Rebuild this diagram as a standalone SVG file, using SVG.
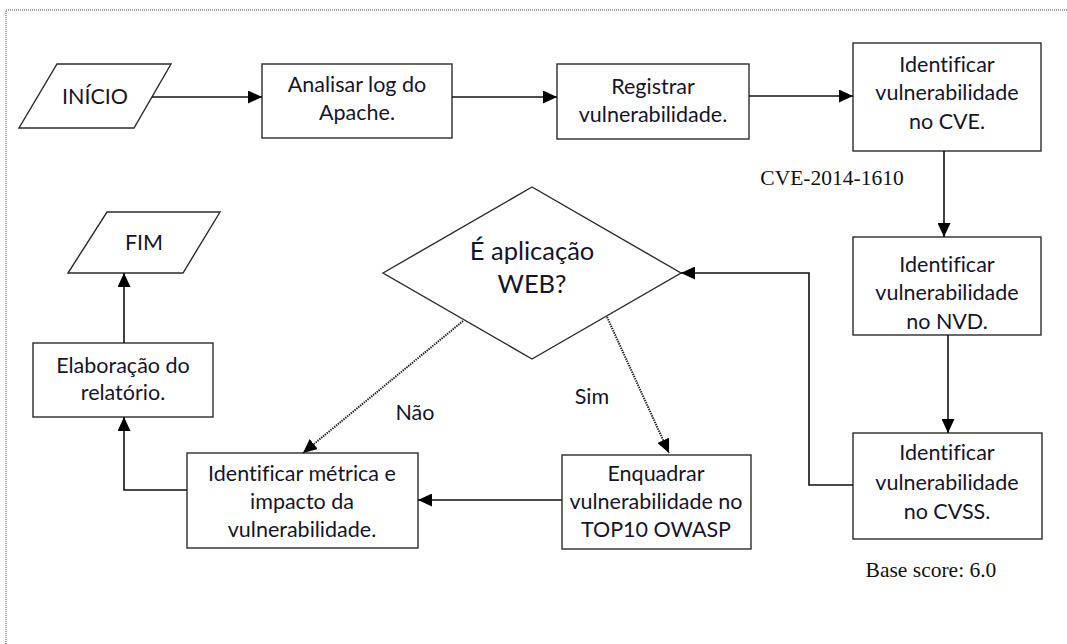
<svg xmlns="http://www.w3.org/2000/svg" width="1067" height="644" viewBox="0 0 1067 644">
<style>
.box{fill:#fff;stroke:#2b2b2b;stroke-width:1.4}
.t{font-family:Lato,"Open Sans",sans-serif;font-size:21.5px;fill:#15152a;text-anchor:middle;font-variant-ligatures:none}
.big{font-size:25.5px}
.serif{font-family:"Liberation Serif","Times New Roman",serif;font-size:21.5px;fill:#111;text-anchor:middle}
.ln{fill:none;stroke:#111;stroke-width:1.6}
.dot{fill:none;stroke:#222;stroke-width:2;stroke-dasharray:1.4 1}
.frame{fill:none;stroke:#555;stroke-width:1;stroke-dasharray:1 1}
</style>
<defs>
<marker id="ah" markerUnits="userSpaceOnUse" markerWidth="14" markerHeight="13" refX="14" refY="6.5" orient="auto">
<path d="M0,0 L14,6.5 L0,13 z" fill="#000"/>
</marker>
</defs>
<rect width="1067" height="644" fill="#fff"/>
<path class="frame" d="M6,644 L6,10 L1067,10"/>

<g id="inicio">
<polygon class="box" points="57,64 171,64 134,128 19,128"/>
<text class="t" x="95" y="104">INÍCIO</text>
</g>
<g id="analisar">
<rect class="box" x="262" y="64" width="190" height="74"/>
<text class="t" x="357" y="92">Analisar log do</text>
<text class="t" x="357" y="120">Apache.</text>
</g>
<g id="registrar">
<rect class="box" x="557" y="64" width="192" height="75"/>
<text class="t" x="653" y="94">Registrar</text>
<text class="t" x="653" y="122">vulnerabilidade.</text>
</g>
<g id="cve">
<rect class="box" x="853" y="43" width="188" height="108"/>
<text class="t" x="947" y="72">Identificar</text>
<text class="t" x="947" y="100">vulnerabilidade</text>
<text class="t" x="947" y="129">no CVE.</text>
</g>
<g id="nvd">
<rect class="box" x="853" y="237" width="188" height="98"/>
<text class="t" x="947" y="272">Identificar</text>
<text class="t" x="947" y="300">vulnerabilidade</text>
<text class="t" x="947" y="329">no NVD.</text>
</g>
<g id="cvss">
<rect class="box" x="853" y="433" width="189" height="106"/>
<text class="t" x="947" y="460">Identificar</text>
<text class="t" x="947" y="490">vulnerabilidade</text>
<text class="t" x="947" y="519">no CVSS.</text>
</g>
<g id="decisao">
<polygon class="box" points="383,273 532,187 681,273 532,359"/>
<text class="t big" x="532" y="260">É aplicação</text>
<text class="t big" x="532" y="293">WEB?</text>
</g>
<g id="enquadrar">
<rect class="box" x="562" y="455" width="189" height="94"/>
<text class="t" x="656" y="481">Enquadrar</text>
<text class="t" x="656" y="509">vulnerabilidade no</text>
<text class="t" x="656" y="537">TOP10 OWASP</text>
</g>
<g id="metrica">
<rect class="box" x="187" y="453" width="231" height="95"/>
<text class="t" x="302" y="481">Identificar métrica e</text>
<text class="t" x="302" y="509">impacto da</text>
<text class="t" x="302" y="537">vulnerabilidade.</text>
</g>
<g id="relatorio">
<rect class="box" x="33" y="343" width="180" height="74"/>
<text class="t" x="123" y="373">Elaboração do</text>
<text class="t" x="123" y="400">relatório.</text>
</g>
<g id="fim">
<polygon class="box" points="107,212 220,212 183,273 68,273"/>
<text class="t" x="144" y="250">FIM</text>
</g>

<g id="connectors">
<path class="ln" d="M152,97 L262,97" marker-end="url(#ah)"/>
<path class="ln" d="M452,97 L557,97" marker-end="url(#ah)"/>
<path class="ln" d="M749,96 L853,96" marker-end="url(#ah)"/>
<path class="ln" d="M944,151 L944,237" marker-end="url(#ah)"/>
<path class="ln" d="M948,335 L948,433" marker-end="url(#ah)"/>
<path class="ln" d="M853,485 L809,485 L809,273 L681,273" marker-end="url(#ah)"/>
<path class="dot" d="M463,321 L303,453" marker-end="url(#ah)"/>
<path class="dot" d="M607,317 L669,453" marker-end="url(#ah)"/>
<path class="ln" d="M562,500 L418,500" marker-end="url(#ah)"/>
<path class="ln" d="M187,490 L124,490 L124,417" marker-end="url(#ah)"/>
<path class="ln" d="M124,343 L124,273" marker-end="url(#ah)"/>
</g>

<text class="t" x="415" y="420">Não</text>
<text class="t" x="592" y="404">Sim</text>
<text class="serif" x="832" y="185">CVE-2014-1610</text>
<text class="serif" x="931" y="577">Base score: 6.0</text>
</svg>
